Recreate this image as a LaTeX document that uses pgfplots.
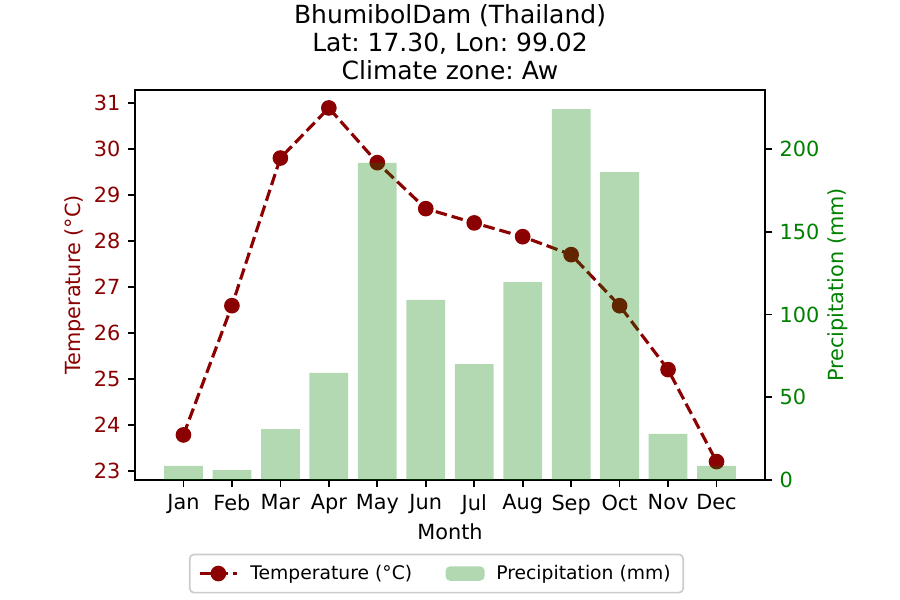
\documentclass[border=0pt]{standalone}
\usepackage{fontspec}
\setmainfont{DejaVu Sans}
\usepackage{pgfplots}
\pgfplotsset{compat=1.18}
\definecolor{dred}{HTML}{8B0000}
\definecolor{dgreen}{HTML}{008000}
\definecolor{barg}{RGB}{178,216,178}
\frenchspacing
\begin{document}
\begin{tikzpicture}[x=1pt,y=1pt]
\path[use as bounding box] (0,0) rectangle (432,288);
\pgfplotsset{
  every axis/.append style={
    scale only axis, width=302.4pt, height=187.2pt,
    at={(64.8pt,57.6pt)}, anchor=south west,
    /pgf/number format/assume math mode=true,
    tick align=outside, major tick length=3.5pt,
    every tick/.style={black, line width=0.8pt},
    axis line style={line width=0.8pt},
    tick label style={font=\fontsize{10}{12}\selectfont},
    label style={font=\fontsize{10}{12}\selectfont},
    xmin=-1, xmax=12,
  }
}
\begin{axis}[
  ymin=22.8, ymax=31.28,
  xtick={0,...,11},
  xticklabels={Jan,Feb,Mar,Apr,May,Jun,Jul,Aug,Sep,Oct,Nov,Dec},
  ytick={23,24,...,31},
  xtick pos=bottom, ytick pos=left,
  yticklabel style={text=dred},
  xlabel={Month},
  xlabel style={at={(axis description cs:0.5,0)}, anchor=center, yshift=-25pt},
  ylabel={Temperature (°C)},
  ylabel style={at={(axis description cs:-0.0952,0.5)}, anchor=center, text=dred},
]
\addplot[dred, line width=1.5pt, dash pattern=on 5.55pt off 2.4pt, mark=*, mark size=3pt, mark options={solid, fill=dred}]
coordinates {(0,23.78) (1,26.59) (2,29.80) (3,30.89) (4,29.70) (5,28.70) (6,28.39) (7,28.09) (8,27.70) (9,26.59) (10,25.20) (11,23.20)};
\end{axis}
\begin{axis}[
  ymin=0, ymax=235.6,
  axis x line=none, axis y line*=right,
  ytick={0,50,...,200},
  yticklabel style={text=dgreen},
  ylabel={Precipitation (mm)},
  ylabel style={at={(axis description cs:1.1157,0.5)}, anchor=center, text=dgreen},
  legend columns=2,
  legend style={at={(axis description cs:0.4785,-0.2399)}, anchor=center,
    draw=black!20, rounded corners=2pt, line width=0.8pt,
    font=\fontsize{9}{11}\selectfont,
    /tikz/every odd column/.append style={column sep=3.6pt},
    /tikz/every even column/.append style={column sep=14pt},
    inner xsep=4pt, inner ysep=3pt},
]
\addlegendimage{dred, line width=1.5pt, dash pattern=on 5.55pt off 2.4pt, mark=*, mark size=3pt, mark options={solid, fill=dred},
  legend image code/.code={\draw[mark repeat=2,mark phase=2,##1] plot coordinates {(0pt,0pt) (9pt,0pt) (18pt,0pt)};}}
\addlegendentry{Temperature (°C)}
\addlegendimage{legend image code/.code={\fill[barg] (0pt,-3.1pt) rectangle (18pt,3.1pt);}}
\addlegendentry{Precipitation (mm)}
\addplot[ybar, bar width=0.8, fill=dgreen, fill opacity=0.3, draw=none, forget plot]
coordinates {(0,8.5) (1,6) (2,30.8) (3,64.7) (4,191.5) (5,108.8) (6,70) (7,119.6) (8,224) (9,186) (10,27.8) (11,8.5)};
\end{axis}
\node[align=center, font=\fontsize{12}{13.4}\selectfont] at (216pt,267.8pt)
  {BhumibolDam (Thailand)\\Lat: 17.30, Lon: 99.02\\Climate zone: Aw};
\end{tikzpicture}
\end{document}
